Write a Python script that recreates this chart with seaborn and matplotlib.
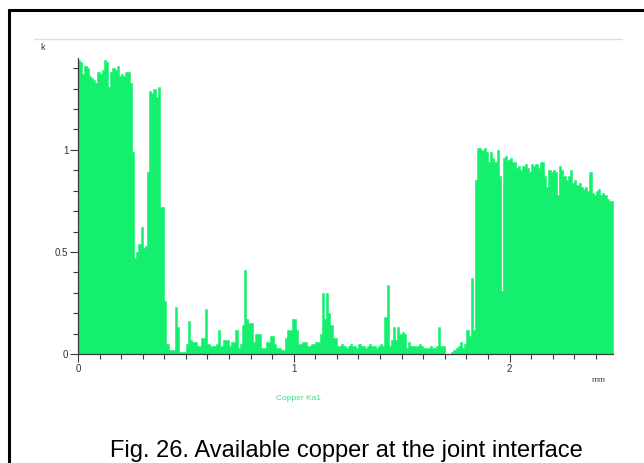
import numpy as np
import matplotlib
matplotlib.use("Agg")
import matplotlib.pyplot as plt
from matplotlib.lines import Line2D
from matplotlib.ticker import MultipleLocator
import seaborn as sns

# Copper Ka1 line scan, counts in k, sampled every 0.01 mm
step_mm = 0.01
copper_k = [
    1.44, 1.43, 1.37, 1.41, 1.40, 1.36, 1.35, 1.34, 1.33, 1.38,
    1.37, 1.39, 1.44, 1.43, 1.31, 1.38, 1.40, 1.39, 1.41, 1.36,
    1.37, 1.36, 1.38, 1.38, 1.33, 0.99, 0.47, 0.50, 0.54, 0.62,
    0.52, 0.53, 0.89, 1.29, 1.28, 1.30, 1.26, 1.31, 0.72, 0.72,
    0.26, 0.05, 0.02, 0.02, 0.02, 0.23, 0.13, 0.01, 0.01, 0.01,
    0.05, 0.16, 0.07, 0.06, 0.06, 0.04, 0.04, 0.08, 0.08, 0.22,
    0.05, 0.04, 0.04, 0.04, 0.05, 0.12, 0.04, 0.07, 0.07, 0.07,
    0.04, 0.06, 0.06, 0.12, 0.03, 0.05, 0.14, 0.41, 0.17, 0.15,
    0.15, 0.06, 0.10, 0.10, 0.10, 0.03, 0.03, 0.06, 0.06, 0.09,
    0.09, 0.05, 0.03, 0.03, 0.02, 0.02, 0.08, 0.12, 0.12, 0.17,
    0.17, 0.12, 0.05, 0.05, 0.06, 0.06, 0.04, 0.04, 0.05, 0.05,
    0.06, 0.06, 0.10, 0.30, 0.17, 0.30, 0.20, 0.14, 0.08, 0.08,
    0.04, 0.04, 0.05, 0.04, 0.03, 0.04, 0.05, 0.04, 0.04, 0.03,
    0.05, 0.04, 0.04, 0.03, 0.04, 0.05, 0.04, 0.04, 0.03, 0.04,
    0.05, 0.04, 0.18, 0.34, 0.04, 0.07, 0.13, 0.07, 0.13, 0.10,
    0.11, 0.10, 0.03, 0.06, 0.04, 0.04, 0.04, 0.04, 0.05, 0.04,
    0.03, 0.03, 0.03, 0.04, 0.03, 0.03, 0.04, 0.13, 0.04, 0.04,
    0.00, 0.00, 0.00, 0.01, 0.02, 0.03, 0.04, 0.06, 0.03, 0.05,
    0.12, 0.09, 0.37, 0.12, 0.85, 1.01, 1.01, 1.00, 1.01, 0.99,
    0.94, 0.99, 0.96, 0.94, 1.00, 0.87, 0.31, 0.96, 0.97, 0.95,
    0.96, 0.94, 0.94, 0.91, 0.92, 0.90, 0.92, 0.93, 0.91, 0.89,
    0.93, 0.92, 0.93, 0.91, 0.94, 0.94, 0.87, 0.82, 0.90, 0.89,
    0.90, 0.89, 0.78, 0.92, 0.90, 0.87, 0.85, 0.87, 0.90, 0.84,
    0.85, 0.83, 0.84, 0.82, 0.81, 0.82, 0.80, 0.89, 0.79, 0.78,
    0.80, 0.81, 0.78, 0.79, 0.78, 0.76, 0.75, 0.75,
]
x_ticks = [0, 1, 2]
y_ticks = [0, 0.5, 1]
y_tick_labels = ["0", "0.5", "1"]

green = "#14f06e"
axis_grey = "#3a3a3a"

sns.set_style("white")
plt.rcParams["font.family"] = ["Liberation Sans", "DejaVu Sans"]

n = len(copper_k)
position_mm = np.arange(n) * step_mm + step_mm / 2

fig = plt.figure(figsize=(6.44, 4.63), dpi=100)
ax = fig.add_axes([0.121, 0.2354, 0.831, 0.6393])

sns.histplot(
    x=position_mm,
    weights=copper_k,
    binwidth=step_mm,
    binrange=(0, n * step_mm),
    element="step",
    fill=True,
    color=green,
    alpha=1,
    edgecolor=green,
    linewidth=0.4,
    ax=ax,
)

ax.set_xlim(0, n * step_mm)
ax.set_ylim(0, 1.45)
ax.set_xlabel("")
ax.set_ylabel("")

ax.set_xticks(x_ticks)
ax.set_yticks(y_ticks)
ax.set_yticklabels(y_tick_labels)
ax.xaxis.set_minor_locator(MultipleLocator(0.1))
ax.yaxis.set_minor_locator(MultipleLocator(0.1))
ax.tick_params(which="major", direction="out", length=6, width=0.8,
               color=axis_grey, labelsize=7, labelcolor="#333333", pad=1,
               bottom=True, left=True)
ax.tick_params(which="minor", direction="out", length=3.5, width=0.8,
               color=axis_grey, bottom=True, left=True)

for side in ["top", "right"]:
    ax.spines[side].set_visible(False)
for side in ["left", "bottom"]:
    ax.spines[side].set_color(axis_grey)
    ax.spines[side].set_linewidth(0.9)

# unit labels and legend text
fig.text(40 / 644, 1 - 47 / 463, "k", fontsize=6.5, color="#333333",
         ha="left", va="center")
fig.text(598 / 644, 1 - 381 / 463, "mm", fontsize=6, color="#333333",
         ha="center", va="center")
fig.text(298 / 644, 1 - 398 / 463, "Copper Ka1", fontsize=6, color="#2ee882",
         ha="center", va="center")

# caption
fig.text(346 / 644, 1 - 457 / 463, "Fig. 26. Available copper at the joint interface",
         fontsize=17, color="black", ha="center", va="baseline")

# thin grey rule above the plot and the black frame
fig.add_artist(Line2D([34 / 644, 622 / 644], [1 - 39 / 463, 1 - 39 / 463],
                      color="#dddddd", linewidth=1))
fig.add_artist(Line2D([8.5 / 644, 8.5 / 644], [0, 1 - 9.5 / 463],
                      color="black", linewidth=2.2))
fig.add_artist(Line2D([8.5 / 644, 1], [1 - 9.5 / 463, 1 - 9.5 / 463],
                      color="black", linewidth=2.2))

fig.savefig("out.png", dpi=100)
